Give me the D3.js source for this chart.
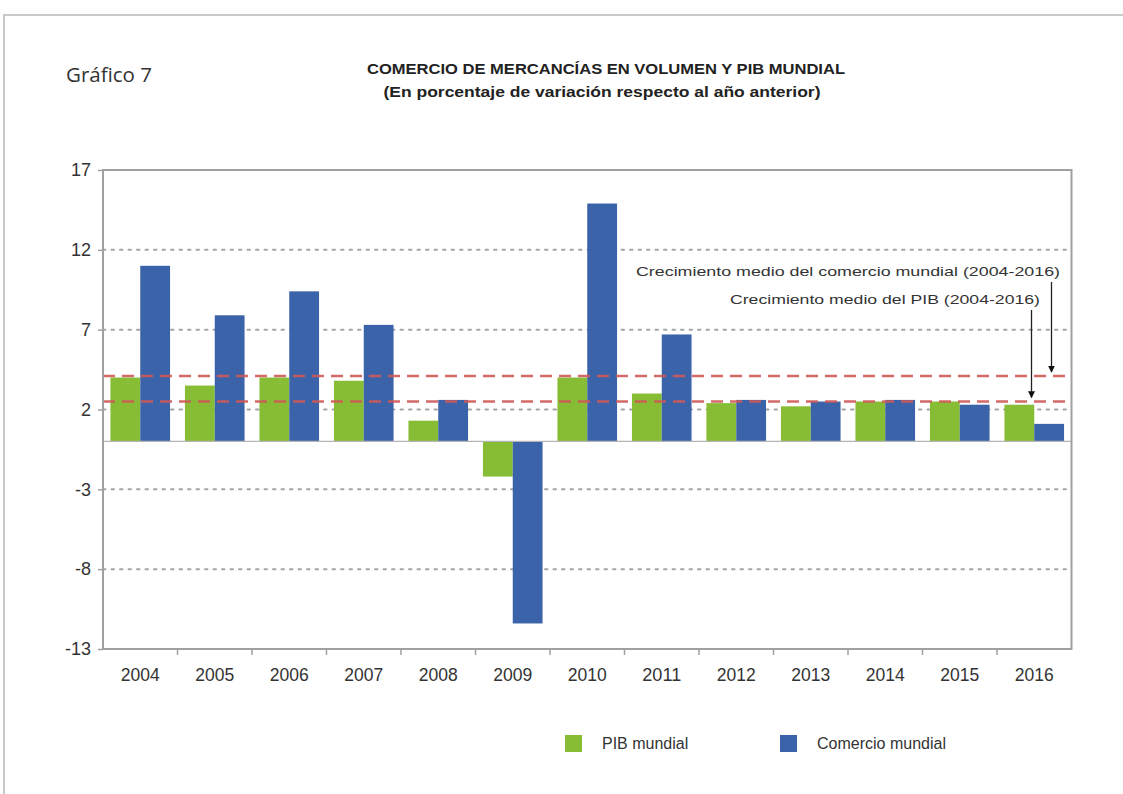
<!DOCTYPE html>
<html>
<head>
<meta charset="utf-8">
<script src="https://cdn.jsdelivr.net/npm/d3@7"></script>
<style>
  html, body { margin: 0; padding: 0; background: #ffffff; }
  svg { display: block; }
</style>
</head>
<body>
<svg id="chart" width="1123" height="794"></svg>
<script>
// Years on the category axis
const years = ["2004","2005","2006","2007","2008","2009","2010","2011","2012","2013","2014","2015","2016"];
// World GDP growth (%)
const pibMundial = [4.0, 3.5, 4.0, 3.8, 1.3, -2.2, 4.0, 3.0, 2.4, 2.2, 2.5, 2.5, 2.3];
// World merchandise trade volume growth (%)
const comercioMundial = [11.0, 7.9, 9.4, 7.3, 2.6, -11.4, 14.9, 6.7, 2.6, 2.5, 2.6, 2.3, 1.1];
// Averages 2004-2016
const mediaComercio = 4.1;
const mediaPIB = 2.5;
// Y axis ticks
const yTicks = [17, 12, 7, 2, -3, -8, -13];
const gridTicks = [12, 7, 2, -3, -8];
const seriesNames = ["PIB mundial", "Comercio mundial"];

const colors = { pib: "#87bd35", comercio: "#3b63aa", media: "#cf5a57" };

const svg = d3.select("#chart");

// Outer frame (top and left edges)
svg.append("path")
  .attr("d", "M4,794 L4,15 L1123,15")
  .attr("fill", "none").attr("stroke", "#c9c9c9").attr("stroke-width", 2);

// Headings
svg.append("text").attr("x", 66).attr("y", 82)
  .attr("font-family", "'Open Sans', 'Noto Sans', sans-serif").attr("font-size", 20.5)
  .attr("fill", "#333").text("Gráfico 7");
svg.append("text").attr("x", 606).attr("y", 74).attr("text-anchor", "middle")
  .attr("font-family", "'Liberation Sans Narrow', 'Liberation Sans', Arial, sans-serif")
  .attr("font-weight", "bold").attr("font-size", 15).attr("fill", "#222")
  .attr("textLength", 478).attr("lengthAdjust", "spacingAndGlyphs")
  .text("COMERCIO DE MERCANCÍAS EN VOLUMEN Y PIB MUNDIAL");
svg.append("text").attr("x", 602).attr("y", 97).attr("text-anchor", "middle")
  .attr("font-family", "'Liberation Sans Narrow', 'Liberation Sans', Arial, sans-serif")
  .attr("font-weight", "bold").attr("font-size", 15).attr("fill", "#222")
  .attr("textLength", 437).attr("lengthAdjust", "spacingAndGlyphs")
  .text("(En porcentaje de variación respecto al año anterior)");

// Plot area
const plot = { left: 103, right: 1071.5, top: 170, bottom: 649 };

const x = d3.scaleBand().domain(years)
  .range([plot.left, plot.right]).paddingInner(0.2).paddingOuter(0.1);
const xs = d3.scaleBand().domain(["pib", "comercio"]).range([0, x.bandwidth()]);
const y = d3.scaleLinear().domain([-13, 17]).range([plot.bottom, plot.top]);

// Dotted grid
svg.append("g").selectAll("line").data(gridTicks).join("line")
  .attr("x1", plot.left).attr("x2", plot.right)
  .attr("y1", d => y(d)).attr("y2", d => y(d))
  .attr("stroke", "#a5a5a5").attr("stroke-width", 2)
  .attr("stroke-dasharray", "2.5,6").attr("stroke-linecap", "round");

// Bars
const rows = years.map((yr, i) => ({ year: yr, pib: pibMundial[i], comercio: comercioMundial[i] }));
const groups = svg.append("g").selectAll("g").data(rows).join("g")
  .attr("transform", d => `translate(${x(d.year)},0)`);
["pib", "comercio"].forEach(k => {
  groups.append("rect")
    .attr("x", xs(k)).attr("width", xs.bandwidth())
    .attr("y", d => y(Math.max(0, d[k])))
    .attr("height", d => Math.abs(y(d[k]) - y(0)))
    .attr("fill", colors[k]);
});

// Zero line
svg.append("line").attr("x1", plot.left).attr("x2", plot.right)
  .attr("y1", y(0)).attr("y2", y(0)).attr("stroke", "#b5b5b5").attr("stroke-width", 1.2);

// Average lines
svg.append("g").selectAll("line").data([mediaComercio, mediaPIB]).join("line")
  .attr("x1", plot.left).attr("x2", plot.right)
  .attr("y1", d => y(d)).attr("y2", d => y(d))
  .attr("stroke", colors.media).attr("stroke-width", 2.5)
  .attr("stroke-dasharray", "12,7").attr("opacity", 0.9);

// Plot frame
svg.append("rect").attr("x", plot.left).attr("y", plot.top)
  .attr("width", plot.right - plot.left).attr("height", plot.bottom - plot.top)
  .attr("fill", "none").attr("stroke", "#a0a0a0").attr("stroke-width", 2);

// Y axis
const yAxis = svg.append("g").attr("transform", `translate(${plot.left},0)`)
  .call(d3.axisLeft(y).tickValues(yTicks).tickFormat(d => String(d)).tickSize(5).tickPadding(7));
yAxis.select(".domain").remove();
yAxis.selectAll("line").attr("stroke", "#a0a0a0").attr("stroke-width", 1.5);
yAxis.selectAll("text").attr("font-family", "'Liberation Sans', Arial, sans-serif")
  .attr("font-size", 18).attr("fill", "#333");

// X axis: ticks between categories, labels centred under each year
const xAxis = svg.append("g").attr("transform", `translate(0,${plot.bottom})`);
const step = x.step();
const boundaries = years.slice(1).map(yr => x(yr) - step * x.paddingInner() / 2);
xAxis.selectAll("line").data(boundaries).join("line")
  .attr("x1", d => d).attr("x2", d => d).attr("y1", 0).attr("y2", 6)
  .attr("stroke", "#a0a0a0").attr("stroke-width", 1.5);
xAxis.selectAll("text").data(years).join("text")
  .attr("x", d => x(d) + x.bandwidth() / 2).attr("y", 32)
  .attr("text-anchor", "middle")
  .attr("font-family", "'Liberation Sans', Arial, sans-serif")
  .attr("font-size", 18.5).attr("fill", "#333")
  .attr("textLength", 39).attr("lengthAdjust", "spacingAndGlyphs")
  .text(d => d);

// Annotations with arrows
const defs = svg.append("defs");
defs.append("marker").attr("id", "flecha").attr("viewBox", "0 0 10 10")
  .attr("refX", 9).attr("refY", 5).attr("markerWidth", 7).attr("markerHeight", 7)
  .attr("markerUnits", "userSpaceOnUse")
  .attr("orient", "auto")
  .append("path").attr("d", "M0,0 L10,5 L0,10 Z").attr("fill", "#111");

const notes = [
  { text: "Crecimiento medio del comercio mundial (2004-2016)", tx: 1060, ty: 276, ax: 1051.5, ay1: 282, value: mediaComercio, width: 424 },
  { text: "Crecimiento medio del PIB (2004-2016)", tx: 1040, ty: 304, ax: 1031.5, ay1: 310, value: mediaPIB, width: 310 }
];
notes.forEach(n => {
  svg.append("text").attr("x", n.tx).attr("y", n.ty).attr("text-anchor", "end")
    .attr("font-family", "'Liberation Sans', Arial, sans-serif")
    .attr("font-size", 13).attr("fill", "#333")
    .attr("textLength", n.width).attr("lengthAdjust", "spacingAndGlyphs")
    .text(n.text);
  svg.append("line").attr("x1", n.ax).attr("x2", n.ax)
    .attr("y1", n.ay1).attr("y2", y(n.value) - 4)
    .attr("stroke", "#222").attr("stroke-width", 1.3)
    .attr("marker-end", "url(#flecha)");
});

// Legend
const legend = svg.append("g");
const legendItems = [
  { name: seriesNames[0], color: colors.pib, x: 565 },
  { name: seriesNames[1], color: colors.comercio, x: 780 }
];
legendItems.forEach(it => {
  legend.append("rect").attr("x", it.x).attr("y", 735).attr("width", 17).attr("height", 17)
    .attr("fill", it.color);
  legend.append("text").attr("x", it.x + 37).attr("y", 749)
    .attr("font-family", "'Liberation Sans', Arial, sans-serif")
    .attr("font-size", 16).attr("fill", "#333").text(it.name);
});
</script>
</body>
</html>
